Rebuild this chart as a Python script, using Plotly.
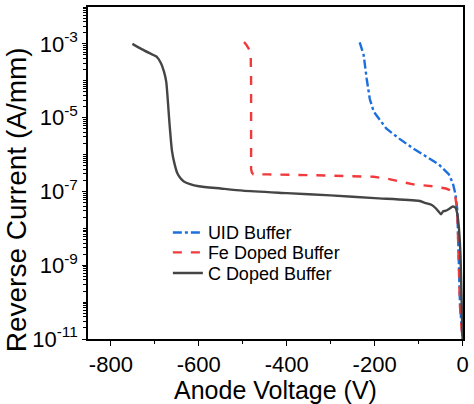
import plotly.graph_objects as go

# ---- data ----
uid_v = [-234, -229, -225, -218, -211, -202, -189, -173, -144, -112, -83, -54, -31, -22, -16, -12, -9, -6, -3, -1, 0]
uid_i = [1.1e-3, 6.5e-4, 5.0e-4, 1.12e-4, 3.2e-5, 1.45e-5, 8.9e-6, 5.0e-6, 2.7e-6, 1.45e-6, 8.9e-7, 5.4e-7, 2.9e-7, 1.66e-7, 8.3e-8, 3.2e-8, 2.0e-9, 1.0e-10, 3.0e-11, 1.3e-11, 1.0e-11]

fe_v = [-497, -492, -482, -481, -481, -479, -476, -443, -308, -202, -170, -144, -112, -67, -38, -22, -16, -12, -9, -6, -3, -1, 0]
fe_i = [1.12e-3, 9.5e-4, 6.0e-4, 1.0e-4, 4.0e-7, 3.2e-7, 2.9e-7, 2.9e-7, 2.7e-7, 2.5e-7, 2.2e-7, 1.86e-7, 1.55e-7, 1.38e-7, 1.2e-7, 1.0e-7, 6.5e-8, 3.0e-8, 1.0e-9, 8.0e-11, 2.5e-11, 1.2e-11, 1.0e-11]

c_v = [-751, -730, -712, -696, -686, -679, -674, -670, -667, -661, -655, -649, -642, -634, -620, -600, -550, -500, -400, -300, -200, -100, -83, -70, -61, -55, -49, -44, -38, -30, -22, -16, -12, -9, -6, -4.5, -2, 0]
c_i = [1.0e-3, 7.2e-4, 5.6e-4, 4.5e-4, 3.0e-4, 1.74e-4, 9.3e-5, 2.5e-5, 7.9e-6, 1.26e-6, 5.5e-7, 3.16e-7, 2.3e-7, 1.86e-7, 1.58e-7, 1.38e-7, 1.2e-7, 1.05e-7, 9.0e-8, 7.8e-8, 6.6e-8, 5.6e-8, 4.8e-8, 4.3e-8, 3.5e-8, 2.9e-8, 2.4e-8, 2.9e-8, 3.0e-8, 3.4e-8, 3.9e-8, 3.6e-8, 2.5e-8, 1.26e-8, 4.0e-9, 1.6e-9, 1.0e-10, 1.0e-11]

x_tickvals = [-800, -600, -400, -200, 0]
x_minor = [-700, -500, -300, -100]
y_tick_exps = [-11, -9, -7, -5, -3]

FONT = "Liberation Sans, Arial, sans-serif"

fig = go.Figure()
fig.add_trace(go.Scatter(x=uid_v, y=uid_i, mode="lines", name="UID Buffer", legend="legend",
                         line=dict(color="#1c6fdc", width=2.4, dash="dashdot")))
fig.add_trace(go.Scatter(x=fe_v, y=fe_i, mode="lines", name="Fe Doped Buffer", legend="legend2",
                         line=dict(color="#f03a3c", width=2.4, dash="dash")))
fig.add_trace(go.Scatter(x=c_v, y=c_i, mode="lines", name="C Doped Buffer", legend="legend3",
                         line=dict(color="#454545", width=2.4, shape="spline", smoothing=0.6)))

def leg(yc):
    return dict(x=0.213, y=yc, xanchor="left", yanchor="middle",
                bgcolor="rgba(0,0,0,0)", font=dict(size=18, family=FONT),
                tracegroupgap=0, itemwidth=30)

fig.update_layout(
    width=474, height=404,
    margin=dict(l=88, r=6, t=5, b=65),
    paper_bgcolor="white", plot_bgcolor="white",
    font=dict(family=FONT, color="black", size=22),
    showlegend=True,
    legend=leg(0.320), legend2=leg(0.260), legend3=leg(0.198),
    xaxis=dict(
        range=[-852, 1], tickvals=x_tickvals, ticktext=[str(v) for v in x_tickvals],
        ticks="outside", ticklen=5, tickwidth=1.3, tickcolor="black",
        showline=True, linecolor="black", linewidth=1.5, mirror=True,
        showgrid=False, zeroline=False,
        tickfont=dict(size=22),
        title=dict(text="Anode Voltage (V)", font=dict(size=25), standoff=1),
        minor=dict(tickvals=x_minor, ticks="outside", ticklen=3,
                   tickcolor="black", tickwidth=1.2),
    ),
    yaxis=dict(
        type="log", range=[-11, -2],
        tickvals=[10.0 ** e for e in y_tick_exps],
        ticktext=["10<sup>%d</sup>" % e for e in y_tick_exps],
        ticks="outside", ticklen=4, tickwidth=1.3, tickcolor="black",
        showline=True, linecolor="black", linewidth=1.5, mirror=True,
        showgrid=False, zeroline=False,
        tickfont=dict(size=22),
        minor=dict(ticks="outside", ticklen=3, tickcolor="black", tickwidth=1,
                   dtick="D1"),
    ),
    annotations=[dict(
        text="Reverse Current (A/mm)", textangle=-90,
        xref="paper", yref="paper", x=-0.19, y=0.42,
        xanchor="center", yanchor="middle", showarrow=False,
        font=dict(size=28, family=FONT, color="black"),
    )],
)

fig.write_html("out.html")
